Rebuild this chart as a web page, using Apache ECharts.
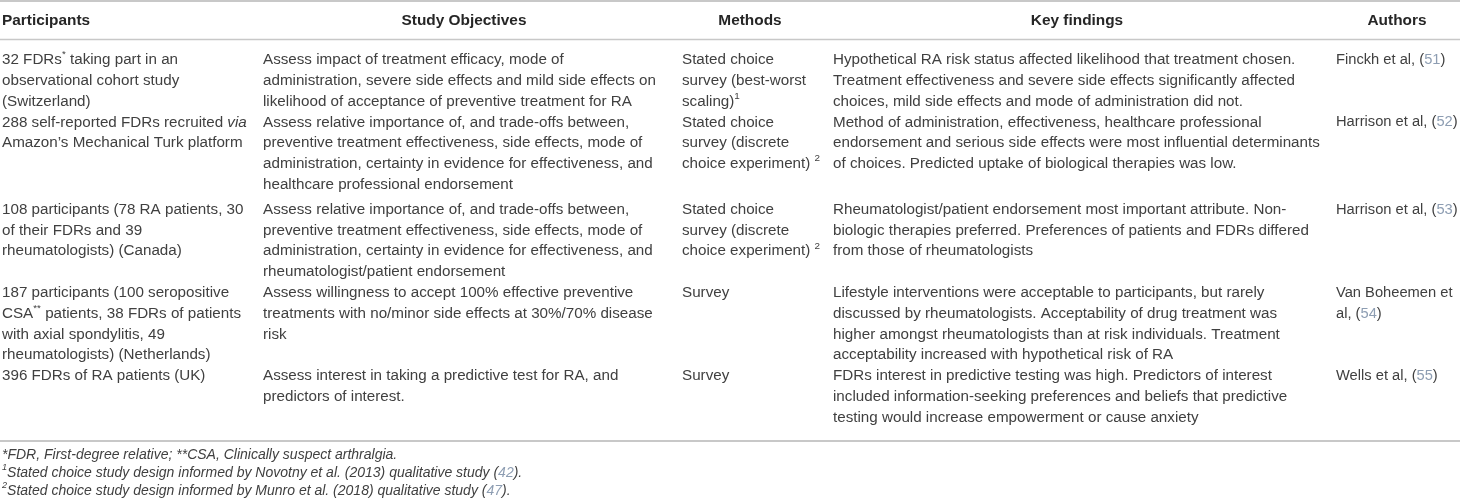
<!DOCTYPE html>
<html>
<head>
<meta charset="utf-8">
<script src="https://cdn.jsdelivr.net/npm/echarts@6/dist/echarts.min.js"></script>
<style>
  html, body { margin: 0; padding: 0; background: #fff; }
  #table { width: 1460px; height: 504px; }
</style>
</head>
<body>
<div id="table"></div>
<script>
// column headers
var headers = ['Participants', 'Study Objectives', 'Methods', 'Key findings', 'Authors'];

// cell text per column, line breaks as in the original table
var participants = [
    '32 FDRs{sup|*} taking part in an\nobservational cohort study\n(Switzerland)',
    '288 self-reported FDRs recruited {i|via}\nAmazon\u2019s Mechanical Turk platform',
    '108 participants (78 RA patients, 30\nof their FDRs and 39\nrheumatologists) (Canada)',
    '187 participants (100 seropositive\nCSA{sup|**} patients, 38 FDRs of patients\nwith axial spondylitis, 49\nrheumatologists) (Netherlands)',
    '396 FDRs of RA patients (UK)'
];
var objectives = [
    'Assess impact of treatment efficacy, mode of\nadministration, severe side effects and mild side effects on\nlikelihood of acceptance of preventive treatment for RA',
    'Assess relative importance of, and trade-offs between,\npreventive treatment effectiveness, side effects, mode of\nadministration, certainty in evidence for effectiveness, and\nhealthcare professional endorsement',
    'Assess relative importance of, and trade-offs between,\npreventive treatment effectiveness, side effects, mode of\nadministration, certainty in evidence for effectiveness, and\nrheumatologist/patient endorsement',
    'Assess willingness to accept 100% effective preventive\ntreatments with no/minor side effects at 30%/70% disease\nrisk',
    'Assess interest in taking a predictive test for RA, and\npredictors of interest.'
];
var methods = [
    'Stated choice\nsurvey (best-worst\nscaling){sup|1}',
    'Stated choice\nsurvey (discrete\nchoice experiment) {sup|2}',
    'Stated choice\nsurvey (discrete\nchoice experiment) {sup|2}',
    'Survey',
    'Survey'
];
var findings = [
    'Hypothetical RA risk status affected likelihood that treatment chosen.\nTreatment effectiveness and severe side effects significantly affected\nchoices, mild side effects and mode of administration did not.',
    'Method of administration, effectiveness, healthcare professional\nendorsement and serious side effects were most influential determinants\nof choices. Predicted uptake of biological therapies was low.',
    'Rheumatologist/patient endorsement most important attribute. Non-\nbiologic therapies preferred. Preferences of patients and FDRs differed\nfrom those of rheumatologists',
    'Lifestyle interventions were acceptable to participants, but rarely\ndiscussed by rheumatologists. Acceptability of drug treatment was\nhigher amongst rheumatologists than at risk individuals. Treatment\nacceptability increased with hypothetical risk of RA',
    'FDRs interest in predictive testing was high. Predictors of interest\nincluded information-seeking preferences and beliefs that predictive\ntesting would increase empowerment or cause anxiety'
];
var authors = [
    'Finckh et al, ({ref|51})',
    'Harrison et al, ({ref|52})',
    'Harrison et al, ({ref|53})',
    'Van Boheemen et\nal, ({ref|54})',
    'Wells et al, ({ref|55})'
];
var footnotes = [
    '*FDR, First-degree relative; **CSA, Clinically suspect arthralgia.',
    '{sup|1}Stated choice study design informed by Novotny et al. (2013) qualitative study ({ref|42}).',
    '{sup|2}Stated choice study design informed by Munro et al. (2018) qualitative study ({ref|47}).'
];

var columns = [participants, objectives, methods, findings, authors];

// layout
var FONT = 'Liberation Sans, Arial, sans-serif';
var LINE = 20.8;
var TEXT = '#404040', RULE = '#c8c8c8';
var colX = [2, 263, 682, 833, 1336];
var colSize = [15.2, 15.2, 15.2, 15.2, 14.7];
var headX = [2, 464, 750, 1077, 1397];
var rowPad = [0, 0, 4, 0, 0];

function rich(size, italic) {
    var base = {fontFamily: FONT, fontSize: size, lineHeight: LINE, fill: TEXT,
        fontStyle: italic ? 'italic' : 'normal'};
    return {
        i: Object.assign({}, base, {fontStyle: 'italic'}),
        ref: Object.assign({}, base, {fill: '#8d9db2'}),
        sup: Object.assign({}, base, {fontSize: size * 0.65, lineHeight: 12, verticalAlign: 'top'})
    };
}

function lineCount(s) { return s.split('\n').length; }

var graphics = [];
function rule(y, w) {
    graphics.push({type: 'rect', shape: {x: 0, y: y - w / 2, width: 1460, height: w},
        style: {fill: RULE}, silent: true});
}
rule(1, 2);
rule(39.5, 1.5);

headers.forEach(function (h, c) {
    graphics.push({type: 'text', x: headX[c], y: 21, silent: true, style: {
        text: h, fontFamily: FONT, fontSize: 15.4, fontWeight: 'bold', fill: '#262626',
        align: c === 0 ? 'left' : 'center', verticalAlign: 'middle'}});
});

var rowTop = 60 - LINE / 2;
for (var r = 0; r < participants.length; r++) {
    rowTop += rowPad[r];
    var maxLines = 0;
    columns.forEach(function (col, c) {
        maxLines = Math.max(maxLines, lineCount(col[r]));
        graphics.push({type: 'text', x: colX[c], y: rowTop, silent: true, style: {
            text: col[r], fontFamily: FONT, fontSize: colSize[c], lineHeight: LINE, fill: TEXT,
            align: 'left', verticalAlign: 'top', rich: rich(colSize[c])}});
    });
    rowTop += maxLines * LINE;
}

rule(441, 2);

var FOOT = 14, FOOT_LINE = 18;
footnotes.forEach(function (f, k) {
    var rs = rich(FOOT, true);
    rs.sup.lineHeight = 10;
    graphics.push({type: 'text', x: 2, y: 455 + k * FOOT_LINE, silent: true, style: {
        text: f, fontFamily: FONT, fontSize: FOOT, fontStyle: 'italic', lineHeight: FOOT_LINE,
        fill: TEXT, align: 'left', verticalAlign: 'middle', rich: rs}});
});

var myChart = echarts.init(document.getElementById('table'));
myChart.setOption({
    animation: false,
    backgroundColor: '#fff',
    graphic: {elements: graphics}
});
</script>
</body>
</html>
